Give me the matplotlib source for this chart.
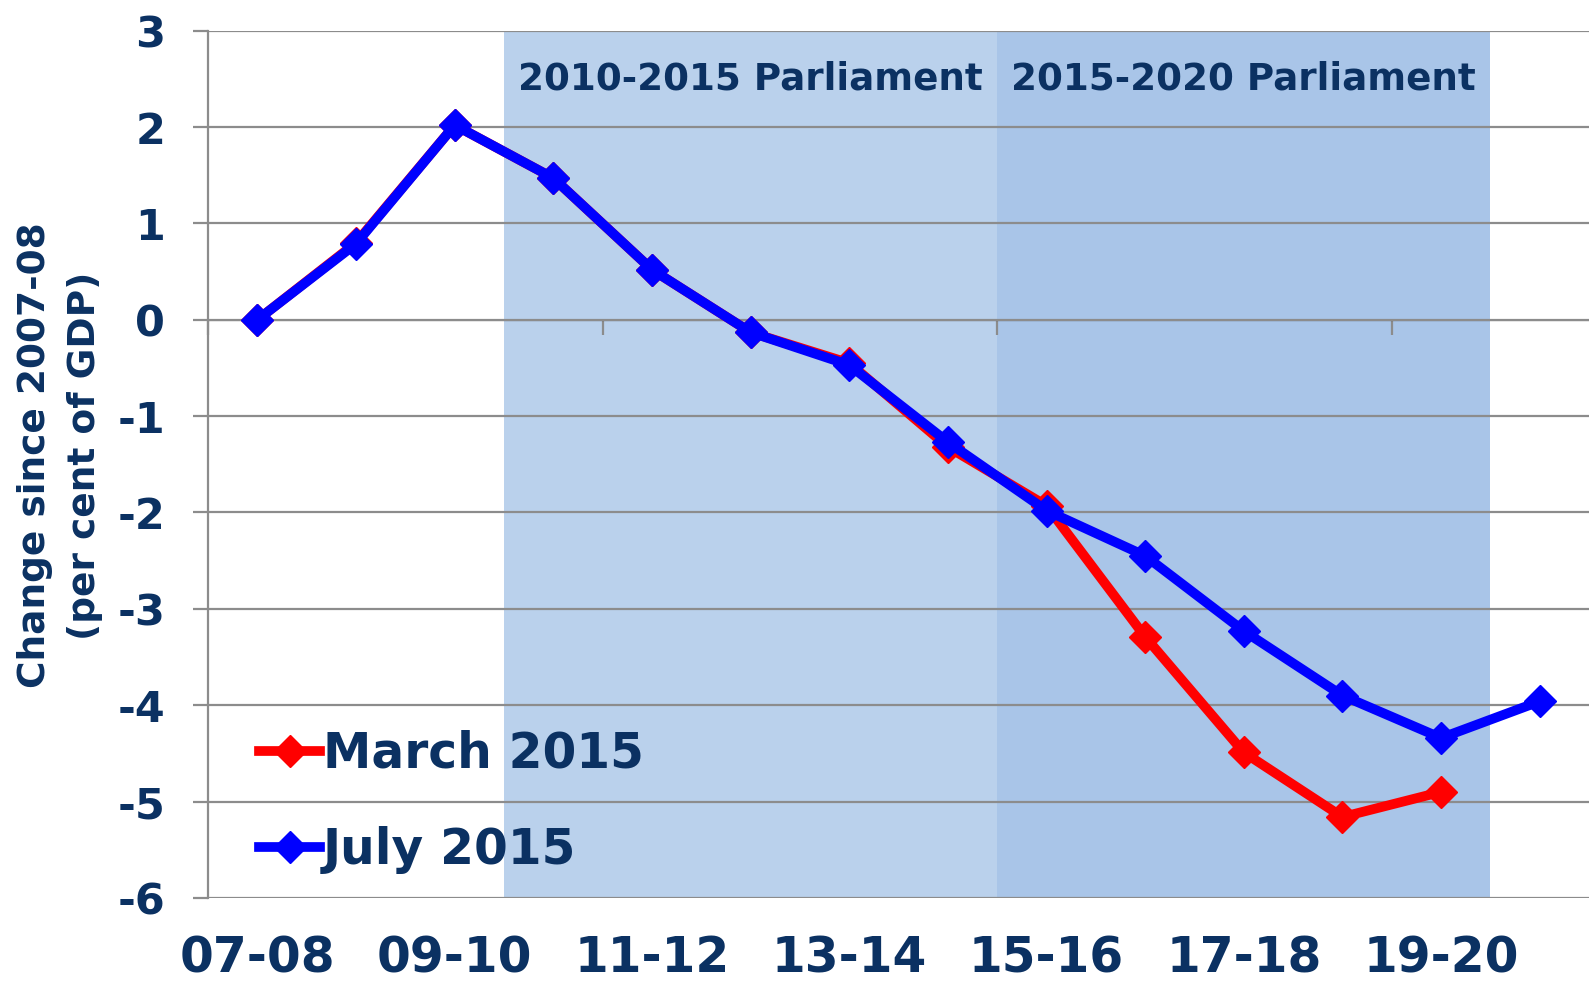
import numpy as np
import matplotlib
matplotlib.use("Agg")
import matplotlib.pyplot as plt

# =================== Data ===================

years = ['07-08', '08-09', '09-10', '10-11', '11-12', '12-13', '13-14',
         '14-15', '15-16', '16-17', '17-18', '18-19', '19-20', '20-21']
march_2015 = [0.0, 0.80, 2.02, 1.47, 0.52, -0.13, -0.45, -1.32, -1.93,
              -3.29, -4.49, -5.16, -4.90, np.nan]
july_2015 = [0.0, 0.79, 2.02, 1.47, 0.52, -0.13, -0.47, -1.27, -1.98,
             -2.45, -3.23, -3.90, -4.34, -3.96]
parliaments = [('2010-2015 Parliament', '10-11', '14-15'),
               ('2015-2020 Parliament', '15-16', '19-20')]
y_ticks = [3, 2, 1, 0, -1, -2, -3, -4, -5, -6]
label_years = years[::2]
axis_tick_years = ['11-12', '15-16', '19-20']

# =================== Style ===================

navy = '#0B3162'
grey = '#8C8C8C'
shades = ['#BAD1EC', '#A9C5E8']
plt.rcParams['font.family'] = ['DejaVu Sans']
plt.rcParams['font.weight'] = 'bold'
plt.rcParams['axes.unicode_minus'] = False

fig = plt.figure(figsize=(15.89, 9.90), dpi=100)
ax = fig.add_axes([0.131, 0.093, 0.869, 0.876])

x = np.arange(len(years))

# shaded parliament periods
for (name, start, end), shade in zip(parliaments, shades):
    i0, i1 = years.index(start), years.index(end)
    ax.axvspan(i0 - 0.5, i1 + 0.5, color=shade, zorder=0, lw=0)
    ax.text((i0 + i1) / 2, 2.5, name, ha='center', va='center',
            fontsize=26.8, color=navy, fontweight='bold', zorder=3)

ax.plot(x, march_2015, color='#FF0000', lw=7, marker='D', ms=16.5,
        solid_joinstyle='round', label='March 2015', zorder=4)
ax.plot(x, july_2015, color='#0000FF', lw=7, marker='D', ms=16.5,
        solid_joinstyle='round', label='July 2015', zorder=5)

ax.set_xlim(-0.5, len(years) - 0.5)
ax.set_ylim(-6, 3)
ax.set_yticks(y_ticks)
ax.yaxis.grid(True, color=grey, lw=1.6, zorder=1)
ax.set_axisbelow(True)

for side in ['top', 'right', 'bottom']:
    ax.spines[side].set_visible(False)
ax.spines['left'].set_color(grey)
ax.spines['left'].set_linewidth(1.6)

ax.tick_params(axis='y', colors=grey, length=11, width=1.6, pad=20,
               labelsize=31, labelcolor=navy)
ax.set_xticks([years.index(y) for y in label_years])
ax.set_xticklabels(label_years)
ax.tick_params(axis='x', length=0, pad=26, labelsize=35, labelcolor=navy)

# category axis crossing at zero
sec = ax.secondary_xaxis(6 / 9)
sec.set_xticks([-0.5] + [years.index(y) - 0.5 for y in axis_tick_years])
sec.set_xticklabels([])
sec.tick_params(axis='x', direction='in', length=11, width=1.6, colors=grey)
sec.spines['bottom'].set_color(grey)
sec.spines['bottom'].set_linewidth(1.6)

fig.text(0.038, 0.54, 'Change since 2007-08\n(per cent of GDP)', rotation=90,
         ha='center', va='center', multialignment='center', linespacing=1.5,
         fontsize=27, color=navy, fontweight='bold')

leg = ax.legend(loc='center left', bbox_to_anchor=(0.163, 0.19),
                bbox_transform=fig.transFigure, frameon=False, fontsize=35,
                handlelength=1.26, handletextpad=0.05, labelspacing=1.0,
                borderpad=0, borderaxespad=0)
for t in leg.get_texts():
    t.set_color(navy)
    t.set_fontweight('bold')

fig.savefig('out.png', dpi=100)
